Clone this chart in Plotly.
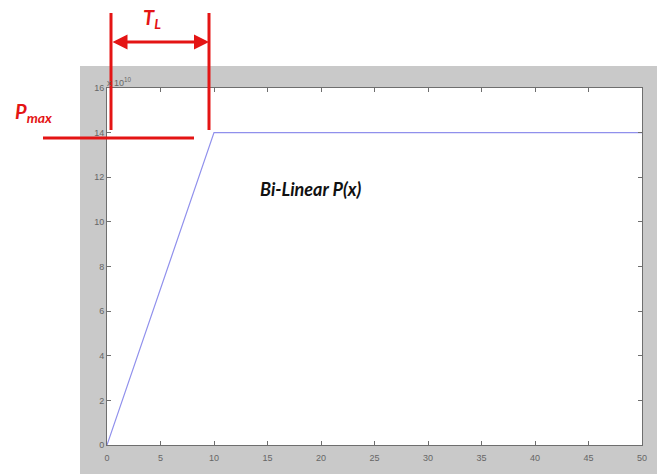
import plotly.graph_objects as go

# Data
x_vals = [0, 10, 50]
p_vals = [0, 1.4e11, 1.4e11]
x_ticks = [0, 5, 10, 15, 20, 25, 30, 35, 40, 45, 50]
y_ticks = [0, 2, 4, 6, 8, 10, 12, 14, 16]
y_scale = 1e10

W, H = 663, 474
L, R, T, B = 107, 642, 88, 445

def px(x):
    return (x - L) / (R - L)

def py(y):
    return (B - y) / (B - T)

fig = go.Figure()
fig.add_trace(go.Scatter(x=x_vals, y=p_vals, mode="lines",
                         line=dict(color="#9090ec", width=1.2),
                         hoverinfo="skip", showlegend=False))

axis_common = dict(showline=True, linecolor="#6e6e6e", linewidth=1, mirror="ticks",
                   ticks="inside", ticklen=4, tickcolor="#6e6e6e",
                   showgrid=False, zeroline=False,
                   tickfont=dict(family="Liberation Sans", size=9, color="#666"))

fig.update_xaxes(range=[0, 50], tickvals=x_ticks, ticktext=[str(v) for v in x_ticks],
                 ticklabelstandoff=4, **axis_common)
fig.update_yaxes(range=[0, 16 * y_scale], tickvals=[v * y_scale for v in y_ticks],
                 ticktext=[str(v) for v in y_ticks], **axis_common)

shapes = [
    dict(type="rect", xref="paper", yref="paper", x0=px(80), x1=px(657), y0=py(474), y1=py(66),
         fillcolor="#c9c9c9", line=dict(width=0), layer="below"),
    dict(type="rect", xref="paper", yref="paper", x0=0, x1=1, y0=0, y1=1,
         fillcolor="white", line=dict(width=0), layer="below"),
    dict(type="line", xref="paper", yref="paper", x0=px(111), x1=px(111), y0=py(13), y1=py(130),
         line=dict(color="#e41414", width=3)),
    dict(type="line", xref="paper", yref="paper", x0=px(209), x1=px(209), y0=py(13), y1=py(130),
         line=dict(color="#e41414", width=3)),
    dict(type="line", xref="paper", yref="paper", x0=px(43), x1=px(194), y0=py(138), y1=py(138),
         line=dict(color="#e41414", width=3)),
]

annotations = [
    dict(xref="paper", yref="paper", x=px(209), y=py(42), ax=-98, ay=0,
         axref="pixel", ayref="pixel", showarrow=True, arrowside="end+start",
         arrowhead=2, arrowsize=1, arrowwidth=3, arrowcolor="#e41414", text=""),
    dict(xref="paper", yref="paper", x=px(152), y=py(18), xanchor="center", yanchor="middle",
         text="<b><i>T<sub>L</sub></i></b>",
         showarrow=False, font=dict(family="Lato", size=20, color="#e41414")),
    dict(xref="paper", yref="paper", x=px(33), y=py(112), xanchor="center", yanchor="middle",
         text="<b><i>P<sub>max</sub></i></b>",
         showarrow=False, font=dict(family="Lato", size=20, color="#e41414")),
    dict(xref="paper", yref="paper", x=px(310), y=py(189), xanchor="center", yanchor="middle",
         text="<b><i>Bi-Linear P(x)</i></b>",
         showarrow=False, font=dict(family="Lato", size=18, color="#111")),
    dict(xref="paper", yref="paper", x=px(105), y=py(82), xanchor="left", yanchor="middle",
         text="x 10<sup>10</sup>", showarrow=False,
         font=dict(family="Liberation Sans", size=9, color="#666")),
]

fig.update_layout(width=W, height=H, margin=dict(l=L, r=W - R, t=T, b=H - B),
                  paper_bgcolor="white", plot_bgcolor="rgba(0,0,0,0)",
                  shapes=shapes, annotations=annotations)

fig.write_html("out.html", config={"displayModeBar": False},
               post_script="document.body.style.margin='0';")
